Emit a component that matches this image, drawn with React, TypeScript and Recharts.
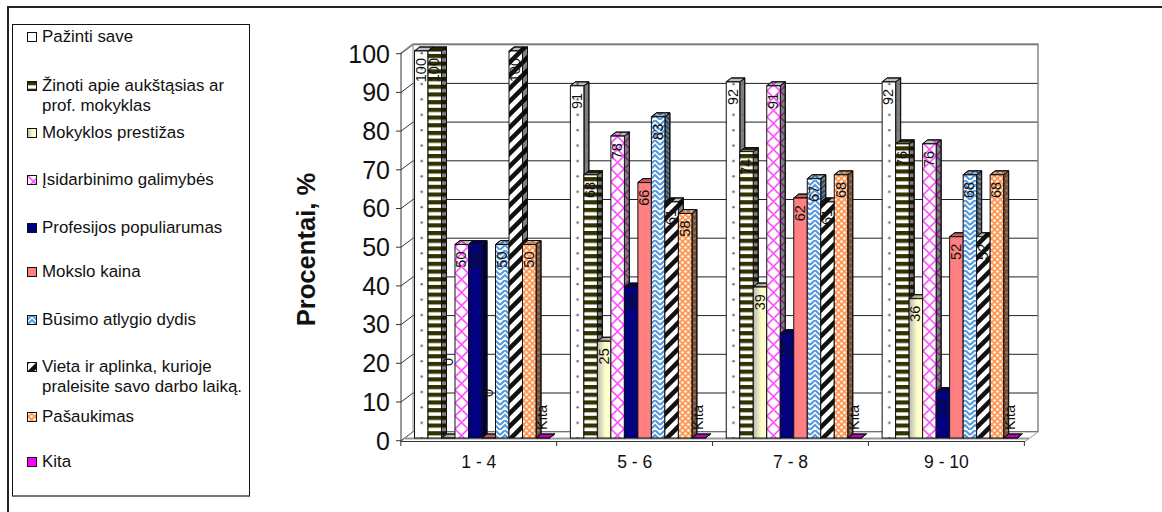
import React from "react";
import { BarChart, Bar, XAxis, YAxis, CartesianGrid, Legend, LabelList } from "recharts";

const categories = ["1 - 4", "5 - 6", "7 - 8", "9 - 10"];
const seriesNames = ["Pažinti save", "Žinoti apie aukštąsias ar prof. mokyklas", "Mokyklos prestižas", "Įsidarbinimo galimybės", "Profesijos populiarumas", "Mokslo kaina", "Būsimo atlygio dydis", "Vieta ir aplinka, kurioje praleisite savo darbo laiką.", "Pašaukimas", "Kita"];
const pazinti = [100, 91, 92, 92];
const zinoti = [100, 68, 74, 76];
const prestizas = [0, 25, 39, 36];
const isidarbinimo = [50, 78, 91, 76];
const populiarumas = [50, 39, 27, 12];
const kaina = [0, 66, 62, 52];
const atlygis = [50, 83, 67, 68];
const vieta = [100, 61, 61, 52];
const pasaukimas = [50, 58, 68, 68];
const kita = [0, 0, 0, 0];
const yTicks = [0, 10, 20, 30, 40, 50, 60, 70, 80, 90, 100];

const allValues = [pazinti, zinoti, prestizas, isidarbinimo, populiarumas, kaina, atlygis, vieta, pasaukimas, kita];
const rows = categories.map((c, i) => {
  const r: any = { c };
  allValues.forEach((v, s) => (r["s" + s] = v[i]));
  return r;
});
const fills = ["url(#p0)", "url(#p1)", "url(#p2)", "url(#p3)", "#000080", "#ff8080", "url(#p6)", "url(#p7)", "url(#p8)", "#ff00ff"];
const zeroLift: Record<number, number> = { 2: 80, 5: 49, 9: 33 };
const FONT = "'Liberation Sans', Arial, sans-serif";

const Bar3D = (p: any) => {
  const { x, y, width, height, fill } = p;
  const dx = 5, dy = 4;
  const top = `${x},${y} ${x + dx},${y - dy} ${x + width + dx},${y - dy} ${x + width},${y}`;
  const side = `${x + width},${y} ${x + width + dx},${y - dy} ${x + width + dx},${y + height - dy} ${x + width},${y + height}`;
  return (
    <g stroke="#111" strokeWidth={1}>
      <polygon points={side} fill={fill} />
      <polygon points={side} fill="rgba(0,0,0,0.5)" />
      <polygon points={top} fill={fill} />
      <polygon points={top} fill="rgba(0,0,0,0.25)" />
      <rect x={x} y={y} width={width} height={height} fill={fill} />
    </g>
  );
};

const makeLabel = (s: number) => (p: any) => {
  const { x, y, width, value } = p;
  const cx = x + width / 2;
  const text = s === 9 ? "Kita" : String(value);
  const end = value === 0 ? y - (zeroLift[s] || 0) : y + 7;
  return (
    <text transform={`translate(${cx + 4.5},${end}) rotate(-90)`} textAnchor="end" fontFamily={FONT} fontSize={14.5} fill="#111">
      {text}
    </text>
  );
};

const gridLine = (p: any) => {
  const { x1, x2, y1 } = p;
  return (
    <g key={p.key}>
      <line x1={x1 + 8.5} x2={x2 + 10} y1={y1 - 6.3} y2={y1 - 6.3} stroke="#222" />
      <line x1={x1 - 3.5} x2={x1 + 8.5} y1={y1 + 2.7} y2={y1 - 6.3} stroke="#333" />
    </g>
  );
};

const YTick = (p: any) => {
  const { x, y, payload } = p;
  return (
    <g>
      <line x1={x + 4.5} x2={x - 0.5} y1={y + 2.7} y2={y + 2.7} stroke="#333" />
      <text x={x - 6.5} y={y + 11.5} textAnchor="end" fontFamily={FONT} fontSize={25} fill="#111">{payload.value}</text>
    </g>
  );
};

const XTick = (p: any) => {
  const { x, y, payload, index } = p;
  return (
    <g>
      <line x1={x - 81.6} x2={x - 81.6} y1={y - 5} y2={y} stroke="#333" />
      {index === 3 && <line x1={x + 74.3} x2={x + 74.3} y1={y - 5} y2={y} stroke="#333" />}
      <text x={x - 3.6} y={y + 22} textAnchor="middle" fontFamily={FONT} fontSize={17.5} fill="#111">{payload.value}</text>
    </g>
  );
};

const legendY = [35.5, 84.5, 131.5, 178.5, 226.5, 270.5, 318.5, 365.5, 415.5, 460.5];
const LegendBox = () => (
  <div style={{ position: "relative", width: 238, height: 473, border: "1px solid #111", borderBottom: "2px solid #777", boxSizing: "border-box", background: "#fff", fontFamily: FONT, fontSize: 16.9, lineHeight: "20.5px", color: "#111", textAlign: "left" }}>
    {seriesNames.map((n, i) => (
      <div key={n} style={{ position: "absolute", left: 29, top: legendY[i] - 24 - 10, width: 200 }}>
        <svg width={10} height={10} style={{ position: "absolute", left: -15, top: 5 }}>
          <rect x={0.5} y={0.5} width={9} height={9} fill={fills[i]} stroke="#111" />
        </svg>
        {n}
      </div>
    ))}
  </div>
);

export default function App() {
  return (
    <div style={{ position: "absolute", left: 0, top: 0, width: 1162, height: 512, background: "#fff", overflow: "hidden" }}>
      <div style={{ position: "absolute", left: 7, top: 6, width: 1170, height: 520, borderLeft: "2px solid #222", borderTop: "2px solid #222", boxSizing: "border-box" }} />
      <BarChart width={1162} height={512} data={rows} margin={{ left: 0, right: 134, top: 51, bottom: 0 }} barGap={0} barSize={13.5} style={{ position: "absolute", left: 0, top: 0 }}>
        <defs>
          <pattern id="p0" width={155.9} height={15.4} patternUnits="userSpaceOnUse">
            <rect width={155.9} height={15.4} fill="#fff" />
            <circle cx={109.9} cy={7} r={1.2} fill="#666" />
            <circle cx={119.4} cy={7} r={1.2} fill="#ddd" />
          </pattern>
          <pattern id="p1" width={8} height={7.7} patternUnits="userSpaceOnUse">
            <rect width={8} height={7.7} fill="#fff" />
            <rect width={8} height={4.2} fill="#333300" />
          </pattern>
          <linearGradient id="p2" x1="0" x2="1" y1="0" y2="0">
            <stop offset="0" stopColor="#b9b9ae" />
            <stop offset="0.6" stopColor="#ffffcc" />
            <stop offset="1" stopColor="#ffffcc" />
          </linearGradient>
          <pattern id="p3" width={13} height={13} patternUnits="userSpaceOnUse">
            <rect width={13} height={13} fill="#fff" />
            <path d="M0,0 L13,13 M13,0 L0,13" stroke="#ff55ff" strokeWidth={1.6} />
          </pattern>
          <pattern id="p6" width={10} height={10} patternUnits="userSpaceOnUse">
            <rect width={10} height={10} fill="#fff" />
            <path d="M0,5 L5,0 L10,5 M0,10 L5,5 L10,10" fill="none" stroke="#5599dd" strokeWidth={2} />
          </pattern>
          <pattern id="p7" width={13} height={13} patternUnits="userSpaceOnUse">
            <rect width={13} height={13} fill="#fff" />
            <path d="M-3,3 L3,-3 M-3,16 L16,-3 M10,16 L16,10" stroke="#111" strokeWidth={4.5} />
          </pattern>
          <pattern id="p8" width={6} height={6} patternUnits="userSpaceOnUse">
            <rect width={6} height={6} fill="#ff9955" />
            <circle cx={1.5} cy={1.5} r={1.3} fill="#fff" />
            <circle cx={4.5} cy={4.5} r={1.3} fill="#fff" />
          </pattern>
        </defs>
        <polygon points="401,441.5 413,432 1038,432 1025,441.5" fill="#fff" stroke="#999" />
        <path d="M401,53 L413,44 L1038,44 L1038,432" fill="none" stroke="#888" strokeWidth={1.5} />
        <line x1={413} x2={413} y1={44} y2={432} stroke="#888" />
        <CartesianGrid vertical={false} horizontal={gridLine} />
        <XAxis dataKey="c" tick={XTick} tickLine={false} axisLine={false} interval={0} height={74} />
        <YAxis domain={[0, 100]} ticks={yTicks} tick={YTick} tickLine={false} axisLine={false} width={404.5} interval={0} />
        <line x1={401} x2={401} y1={53} y2={441.5} stroke="#333" />
        <line x1={401} x2={1025} y1={441.5} y2={441.5} stroke="#333" />
        <line x1={405} x2={1029} y1={438.5} y2={438.5} stroke="#999" strokeWidth={2} />
        {seriesNames.map((n, s) => (
          <Bar key={n} dataKey={"s" + s} name={n} fill={fills[s]} shape={Bar3D} isAnimationActive={false}>
            <LabelList dataKey={"s" + s} content={makeLabel(s)} />
          </Bar>
        ))}
        <Legend content={<LegendBox />} layout="vertical" verticalAlign="middle" align="center" wrapperStyle={{ left: 12, top: 24, width: 238, height: 473 }} />
        <text transform="translate(315,249.5) rotate(-90)" textAnchor="middle" fontFamily={FONT} fontSize={25.6} fontWeight="bold" fill="#111">Procentai, %</text>
      </BarChart>
    </div>
  );
}
